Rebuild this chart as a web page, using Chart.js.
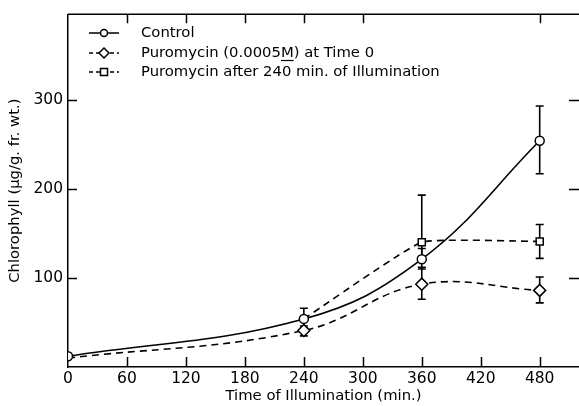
<!DOCTYPE html>
<html>
<head>
<meta charset="utf-8">
<script src="https://cdn.jsdelivr.net/npm/chart.js@4.4.1/dist/chart.umd.min.js"></script>
<style>
html,body{margin:0;padding:0;background:#fff;}
#wrap{width:579px;height:406px;position:relative;}
</style>
</head>
<body>
<div id="wrap"><canvas id="c" width="579" height="406"></canvas></div>
<script>
// ---- data ----
const times = [0, 240, 360, 480];
const xTicks = [0, 60, 120, 180, 240, 300, 360, 420, 480];
const yTicks = [100, 200, 300];

const controlLabel = "Control";
const controlVals = [12, 54, 121, 254];
const controlLow  = [null, 44, 110, 217];
const controlHigh = [null, 66, 133, 293];

const puroZeroLabel = "Puromycin (0.0005M) at Time 0";
const puroZeroVals = [10, 41, 93, 86];
const puroZeroLow  = [null, 35, 76, 72];
const puroZeroHigh = [null, 46, 112, 101];

const puro240Label = "Puromycin after 240 min. of Illumination";
const puro240Vals = [null, 54, 140, 141];
const puro240Low  = [null, null, 122, 122];
const puro240High = [null, null, 193, 160];

const xTitle = "Time of Illumination (min.)";
const yTitle = "Chlorophyll (\u03bcg/g. fr. wt.)";

const FONT = "'DejaVu Sans', sans-serif";

function pts(vals){ return times.map((t,i)=>({x:t,y:vals[i]})).filter(p=>p.y!==null); }

const seriesErr = [
  {low: controlLow, high: controlHigh},
  {low: puroZeroLow, high: puroZeroHigh},
  {low: puro240Low, high: puro240High}
];

const errPlugin = {
  id:'errbars',
  beforeDatasetsDraw(chart){
    const {ctx, scales:{x,y}} = chart;
    ctx.save();
    ctx.strokeStyle='#000'; ctx.lineWidth=1.6; ctx.setLineDash([]);
    seriesErr.forEach(s=>{
      times.forEach((t,i)=>{
        if(s.low[i]==null || s.high[i]==null) return;
        const px = x.getPixelForValue(t);
        const lo = y.getPixelForValue(s.low[i]);
        const hi = y.getPixelForValue(s.high[i]);
        ctx.beginPath();
        ctx.moveTo(px, lo); ctx.lineTo(px, hi);
        ctx.moveTo(px-4, lo); ctx.lineTo(px+4, lo);
        ctx.moveTo(px-4, hi); ctx.lineTo(px+4, hi);
        ctx.stroke();
      });
    });
    ctx.restore();
  }
};

const framePlugin = {
  id:'frame',
  afterDraw(chart){
    const {ctx, chartArea:a, scales:{x,y}} = chart;
    ctx.save();
    ctx.strokeStyle='#000'; ctx.lineWidth=1.5; ctx.setLineDash([]);
    ctx.beginPath(); ctx.moveTo(a.left, a.top); ctx.lineTo(a.right, a.top); ctx.stroke();
    ctx.beginPath();
    xTicks.forEach(v=>{
      const px = Math.round(x.getPixelForValue(v))+0.5;
      if(v>0){ ctx.moveTo(px, a.bottom); ctx.lineTo(px, a.bottom-10); }
      if(v>0 && v!==360 && v!==420){ ctx.moveTo(px, a.top); ctx.lineTo(px, a.top+9); }
    });
    yTicks.forEach(v=>{
      const py = Math.round(y.getPixelForValue(v))+0.5;
      ctx.moveTo(a.left, py); ctx.lineTo(a.left+9, py);
      ctx.moveTo(a.right, py); ctx.lineTo(a.right-10, py);
    });
    ctx.stroke();

    // legend
    const rows = [
      {label: controlLabel, dash: [], style:'circle'},
      {label: puroZeroLabel, dash: [4,3], style:'diamond'},
      {label: puro240Label, dash: [4,3], style:'square'}
    ];
    const ys = [33, 53, 72];
    ctx.font = "14.8px " + FONT;
    ctx.textBaseline = 'middle';
    rows.forEach((r,i)=>{
      const yy = ys[i];
      ctx.lineWidth=1.5;
      ctx.setLineDash(r.dash);
      ctx.beginPath(); ctx.moveTo(89, yy); ctx.lineTo(119, yy); ctx.stroke();
      ctx.setLineDash([]);
      ctx.fillStyle='#fff';
      ctx.beginPath();
      const cx = 104;
      if(r.style==='circle'){ ctx.arc(cx, yy, 3.5, 0, Math.PI*2); }
      else if(r.style==='diamond'){ ctx.moveTo(cx, yy-5); ctx.lineTo(cx+5, yy); ctx.lineTo(cx, yy+5); ctx.lineTo(cx-5, yy); ctx.closePath(); }
      else { ctx.rect(cx-3.5, yy-3.5, 7, 7); }
      ctx.fill(); ctx.stroke();
      ctx.fillStyle='#000';
      ctx.fillText(r.label, 141, yy);
      if(i===1){
        const pre = r.label.slice(0, r.label.indexOf('M'));
        const w0 = ctx.measureText(pre).width;
        const wm = ctx.measureText('M').width;
        ctx.beginPath(); ctx.lineWidth=1.2;
        ctx.moveTo(141+w0, yy+7.5); ctx.lineTo(141+w0+wm, yy+7.5); ctx.stroke();
      }
    });
    ctx.restore();
  }
};

const common = {borderColor:'#000', borderWidth:1.6, pointBackgroundColor:'#fff', pointBorderColor:'#000', pointBorderWidth:1.5, fill:false};

new Chart(document.getElementById('c'), {
  type:'line',
  data:{
    datasets:[
      Object.assign({}, common, {label: controlLabel, data: pts(controlVals), pointStyle:'circle', pointRadius:4.5, tension:0.4}),
      Object.assign({}, common, {label: puroZeroLabel, data: pts(puroZeroVals), borderDash:[7,5], pointStyle:'rectRot', tension:0.4,
        pointRadius:(c)=> c.dataIndex===0 ? 0 : 6}),
      Object.assign({}, common, {label: puro240Label, data: pts(puro240Vals), borderDash:[7,5], pointStyle:'rect', tension:0.12,
        pointRadius:(c)=> c.dataIndex===0 ? 0 : 5})
    ]
  },
  options:{
    responsive:false, animation:false,
    layout:{autoPadding:false, padding:{top:10, right:0, left:0, bottom:0}},
    plugins:{legend:{display:false}, tooltip:{enabled:false}},
    scales:{
      x:{type:'linear', min:0, max:520,
        afterBuildTicks(s){ s.ticks = xTicks.map(v=>({value:v})); },
        afterFit(s){ s.height = 39; },
        grid:{display:false, drawTicks:false},
        border:{display:true, color:'#000', width:1.5},
        ticks:{color:'#000', font:{family:FONT, size:15.5}, padding:3, maxRotation:0, autoSkip:false},
        title:{display:true, text:xTitle, color:'#000', font:{family:FONT, size:14.8}, padding:{top:0,bottom:1}}
      },
      y:{type:'linear', min:0, max:396,
        afterBuildTicks(s){ s.ticks = yTicks.map(v=>({value:v})); },
        afterFit(s){ s.width = 68; },
        grid:{display:false, drawTicks:false},
        border:{display:true, color:'#000', width:1.5},
        ticks:{color:'#000', font:{family:FONT, size:15.5}, padding:5},
        title:{display:true, text:yTitle, color:'#000', font:{family:FONT, size:14.8}, padding:{top:6,bottom:0}}
      }
    }
  },
  plugins:[errPlugin, framePlugin]
});
</script>
</body>
</html>
